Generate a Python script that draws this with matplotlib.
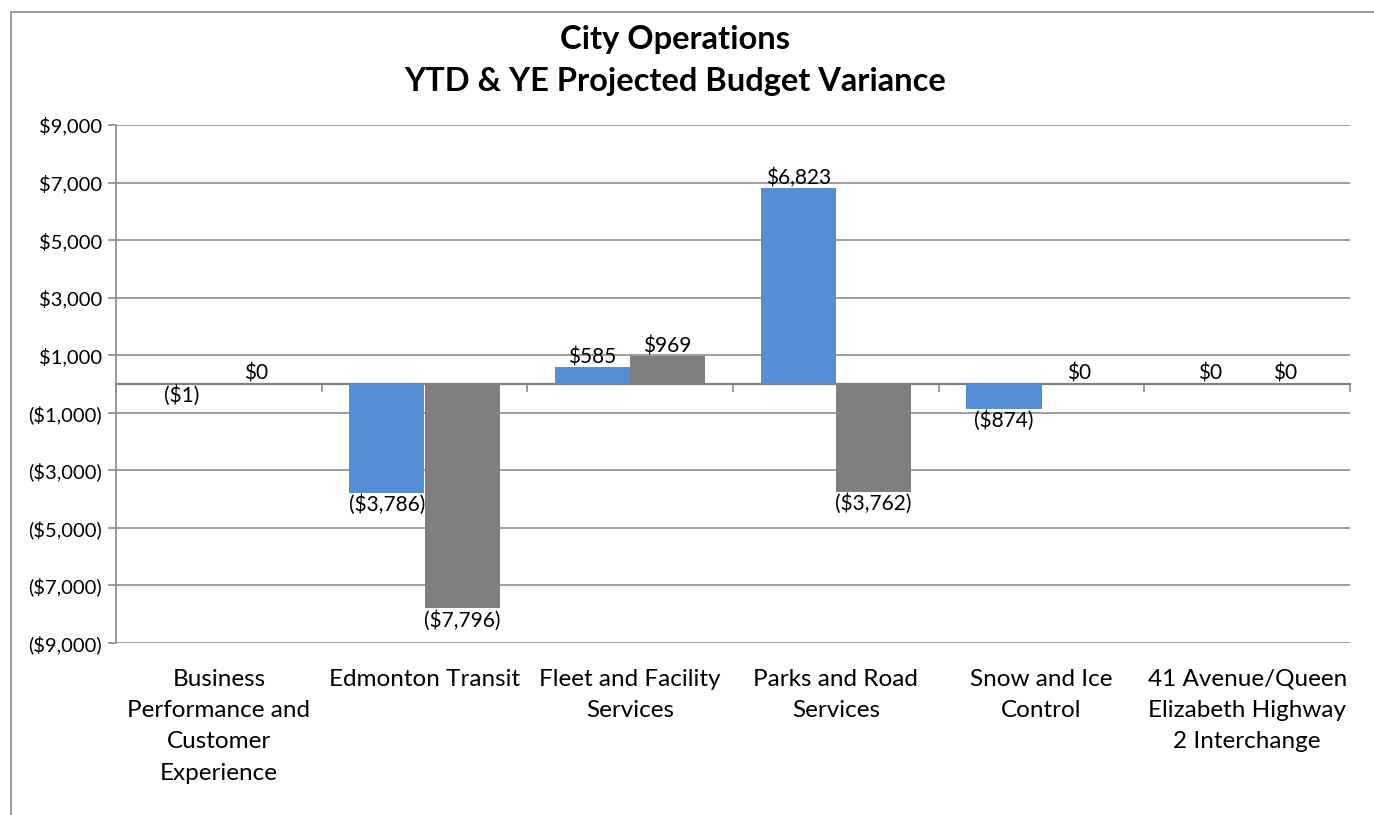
import matplotlib
matplotlib.use("Agg")
import matplotlib.pyplot as plt
import matplotlib.patches as patches
from matplotlib.ticker import FuncFormatter, FixedLocator
import numpy as np

# 数据
categories = [
    "Business\nPerformance and\nCustomer\nExperience",
    "Edmonton Transit",
    "Fleet and Facility\nServices",
    "Parks and Road\nServices",
    "Snow and Ice\nControl",
    "41 Avenue/Queen\nElizabeth Highway\n2 Interchange",
]
ytd_variance = [-1, -3786, 585, 6823, -874, 0]
ye_projected = [0, -7796, 969, -3762, 0, 0]
y_ticks = [-9000, -7000, -5000, -3000, -1000, 1000, 3000, 5000, 7000, 9000]

BLUE = "#558ED5"
GRAY = "#7F7F7F"
GRID = "#8C8C8C"

plt.rcParams['font.family'] = ['Lato', 'DejaVu Sans']


def money(v, pos=None):
    """$1,000 / ($1,000) 格式"""
    v = int(round(v))
    if v < 0:
        return f"(${-v:,})"
    return f"${v:,}"


fig = plt.figure(figsize=(13.74, 8.15), dpi=100)
fig.patch.set_facecolor('white')

# 外框
fig.patches.append(patches.Rectangle((11 / 1374, -0.1), 1.2, 1 - 12 / 815 + 0.1,
                                     transform=fig.transFigure, fill=False,
                                     edgecolor="#8C8C8C", linewidth=1.2))

ax = fig.add_axes([116 / 1374, 1 - 643 / 815, (1350 - 116) / 1374, (643 - 125) / 815])

x = np.arange(len(categories))
w = 0.365
b1 = ax.bar(x - w / 2, ytd_variance, w, color=BLUE, zorder=3)
b2 = ax.bar(x + w / 2, ye_projected, w, color=GRAY, zorder=3)

for bars, vals in ((b1, ytd_variance), (b2, ye_projected)):
    for rect, v in zip(bars, vals):
        cx = rect.get_x() + rect.get_width() / 2
        if v >= 0:
            ax.annotate(money(v), (cx, v), xytext=(0, 0), textcoords="offset points",
                        ha="center", va="bottom", fontsize=15, zorder=4)
        else:
            ax.annotate(money(v), (cx, v), xytext=(0, -1), textcoords="offset points",
                        ha="center", va="top", fontsize=15, zorder=4)

ax.set_xlim(-0.5, len(categories) - 0.5)
ax.set_ylim(-9000, 9000)
ax.yaxis.set_major_locator(FixedLocator(y_ticks))
ax.yaxis.set_major_formatter(FuncFormatter(money))
ax.tick_params(axis='y', labelsize=14.5, length=6, width=1.2, color=GRID, pad=4)
ax.grid(axis='y', color=GRID, linewidth=1.2, zorder=0)

# x 轴放在 0 处
ax.spines['bottom'].set_position(('data', 0))
ax.spines['bottom'].set_color("#808080")
ax.spines['bottom'].set_linewidth(1.6)
ax.spines['bottom'].set_zorder(2)
ax.spines['left'].set_color(GRID)
ax.spines['left'].set_linewidth(1.2)
ax.spines['top'].set_visible(False)
ax.spines['right'].set_visible(False)
ax.set_xticks(np.arange(-0.5, len(categories)))
ax.set_xticklabels([])
ax.tick_params(axis='x', which='major', direction='out', length=6, width=1.2, color=GRID)

for i, name in enumerate(categories):
    ax.text(i, -0.05, name, transform=ax.get_xaxis_transform(), ha='center', va='top',
            fontsize=17.5, linespacing=1.6)

fig.text(0.491, 1 - 40 / 815, "City Operations", ha='center', va='center',
         fontsize=23.5, fontweight='bold')
fig.text(0.491, 1 - 81 / 815, "YTD & YE Projected Budget Variance", ha='center', va='center',
         fontsize=23.5, fontweight='bold')

fig.savefig("out.png", dpi=100, facecolor='white')
